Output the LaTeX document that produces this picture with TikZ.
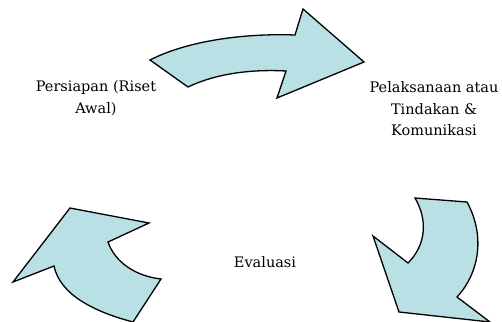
\documentclass[tikz,border=0pt]{standalone}
\usepackage{fontspec}
\setmainfont{DejaVu Serif}
\usetikzlibrary{positioning}
\definecolor{cyclefill}{RGB}{185,224,228}

\begin{document}
\begin{tikzpicture} [x=1pt,y=-1pt,%
arrowshape/.style={draw,fill=cyclefill,line width=1.3pt,line join=miter},
phase/.style={align=center,font=\fontsize{14.5}{21.5}\selectfont,inner sep=0pt}]
\useasboundingbox (0,0) rectangle (502,321);
%\draw[help lines,step=20] (0,0) grid (502,321);
\begin{scope}
\clip (0,0) rectangle (502,321);
% top arrow
\path[arrowshape] (150,60) .. controls (185,42) and (240,33) .. (295,35)
  -- (303,9) -- (364,62) -- (277,98) -- (286,71)
  .. controls (250,69) and (215,74) .. (188,87) -- cycle;
% right arrow
\path[arrowshape] (415,198) -- (467,202) .. controls (485,235) and (480,272) .. (457,297)
  -- (490,322) -- (399,312) -- (373,236) -- (408,263)
  .. controls (426,245) and (428,220) .. (415,198) -- cycle;
% left arrow
\path[arrowshape] (70,208) -- (149,223) -- (108,242)
  .. controls (115,262) and (135,276) .. (161,279) -- (133,322)
  .. controls (95,312) and (60,295) .. (54,266) -- (13,282) -- cycle;
\end{scope}
\node[phase] (prep) at (96,98) {Persiapan (Riset\\Awal)};
\node[phase] (act)  at (434,109) {Pelaksanaan atau\\Tindakan \&\\Komunikasi};
\node[phase] (eval) at (265,262) {Evaluasi};
\end{tikzpicture}
\end{document}
